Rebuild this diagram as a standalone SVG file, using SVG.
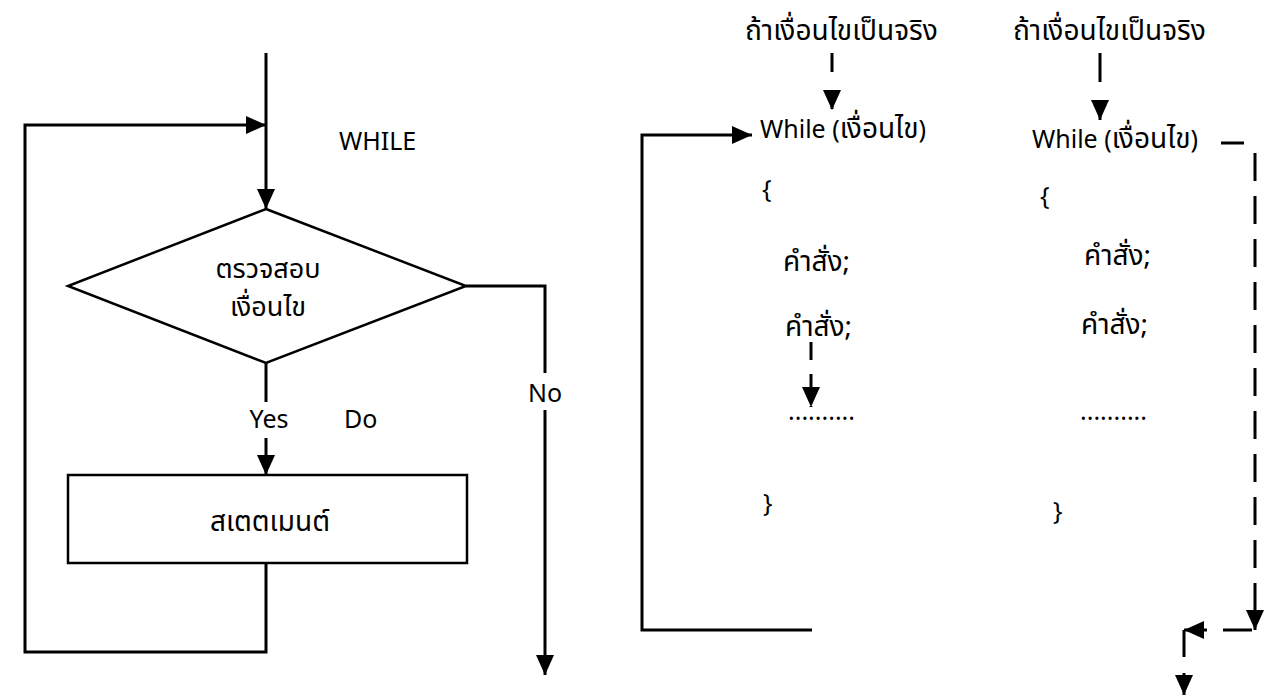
<svg xmlns="http://www.w3.org/2000/svg" width="1269" height="699" viewBox="0 0 1269 699">
<style>
.ln{fill:none;stroke:#000;stroke-width:3}
.sh{fill:#fff;stroke:#000;stroke-width:2.5}
.t{font-family:"Noto Sans Thai","Tahoma","Noto Sans","DejaVu Sans",sans-serif;font-size:25px;fill:#000}
.th{font-size:28px}
.dm{font-size:27px}
.m{text-anchor:middle}
</style>
<defs>
<marker id="ah" markerUnits="userSpaceOnUse" markerWidth="20" markerHeight="18" refX="20" refY="9" orient="auto">
<path d="M0,0 L20,9 L0,18 z" fill="#000"/>
</marker>
</defs>
<rect width="1269" height="699" fill="#fff"/>
<g id="connectors">
<path class="ln" d="M266,53 V209" marker-end="url(#ah)"/>
<path class="ln" d="M266,563 V652 H25 V125 H266" marker-end="url(#ah)"/>
<path class="ln" d="M266,363 V402"/>
<path class="ln" d="M266,438 V475" marker-end="url(#ah)"/>
<path class="ln" d="M466,286 H545 V373"/>
<path class="ln" d="M545,410 V675" marker-end="url(#ah)"/>
<path class="ln" d="M832,53 V110" stroke-dasharray="19 18" marker-end="url(#ah)"/>
<path class="ln" d="M812,630 H642 V135 H752" marker-end="url(#ah)"/>
<path class="ln" d="M811,342 V407" stroke-dasharray="18 14" marker-end="url(#ah)"/>
<path class="ln" d="M1100,53 V120" stroke-dasharray="29 18" marker-end="url(#ah)"/>
<path class="ln" d="M1221,143 H1244"/>
<path class="ln" d="M1255,153 V630" stroke-dasharray="28 15" marker-end="url(#ah)"/>
<path class="ln" d="M1252,630 H1184" stroke-dasharray="29 16" marker-end="url(#ah)"/>
<path class="ln" d="M1184,630 V695" stroke-dasharray="27 16" marker-end="url(#ah)"/>
</g>
<g id="check">
<polygon class="sh" points="266,209 466,286 266,363 68,286"/>
<text class="t dm m" x="268" y="278">ตรวจสอบ</text>
<text class="t dm m" x="268" y="316">เงื่อนไข</text>
</g>
<g id="statement">
<rect class="sh" x="68" y="475" width="399" height="88"/>
<text class="t th m" x="270" y="531">สเตตเมนต์</text>
</g>
<g id="labels">
<text class="t" x="339" y="150">WHILE</text>
<text class="t m" x="269" y="428">Yes</text>
<text class="t" x="344" y="428">Do</text>
<text class="t m" x="545" y="402">No</text>
</g>
<g id="code1">
<text class="t th" x="745" y="40">ถ้าเงื่อนไขเป็นจริง</text>
<text class="t" x="760" y="138">While (<tspan class="th">เงื่อนไข</tspan>)</text>
<text class="t" x="762" y="198">{</text>
<text class="t th" x="783" y="271">คำสั่ง;</text>
<text class="t th" x="785" y="336">คำสั่ง;</text>
<text class="t" x="788" y="420">..........</text>
<text class="t" x="763" y="512">}</text>
</g>
<g id="code2">
<text class="t th" x="1013" y="40">ถ้าเงื่อนไขเป็นจริง</text>
<text class="t" x="1032" y="148">While (<tspan class="th">เงื่อนไข</tspan>)</text>
<text class="t" x="1040" y="205">{</text>
<text class="t th" x="1084" y="265">คำสั่ง;</text>
<text class="t th" x="1081" y="334">คำสั่ง;</text>
<text class="t" x="1080" y="420">..........</text>
<text class="t" x="1053" y="520">}</text>
</g>
</svg>
